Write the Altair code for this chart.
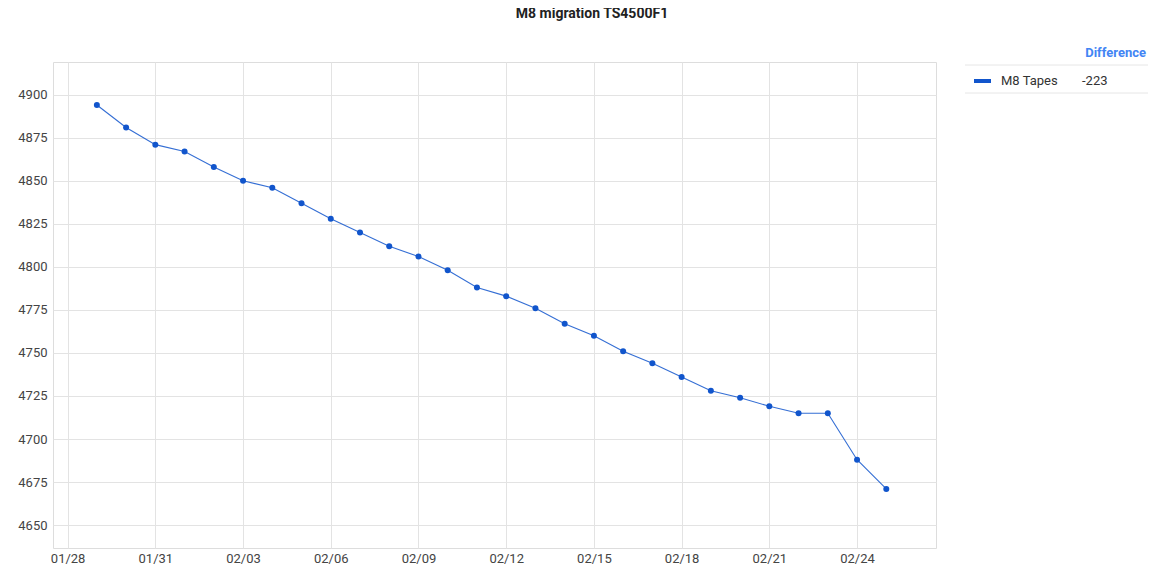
import altair as alt
import pandas as pd

# ---- data ----
dates = [
    "2024-01-29", "2024-01-30", "2024-01-31", "2024-02-01", "2024-02-02",
    "2024-02-03", "2024-02-04", "2024-02-05", "2024-02-06", "2024-02-07",
    "2024-02-08", "2024-02-09", "2024-02-10", "2024-02-11", "2024-02-12",
    "2024-02-13", "2024-02-14", "2024-02-15", "2024-02-16", "2024-02-17",
    "2024-02-18", "2024-02-19", "2024-02-20", "2024-02-21", "2024-02-22",
    "2024-02-23", "2024-02-24", "2024-02-25",
]
tapes = [
    4894, 4881, 4871, 4867, 4858,
    4850, 4846, 4837, 4828, 4820,
    4812, 4806, 4798, 4788, 4783,
    4776, 4767, 4760, 4751, 4744,
    4736, 4728, 4724, 4719, 4715,
    4715, 4688, 4671,
]
x_ticks = ["2024-01-28", "2024-01-31", "2024-02-03", "2024-02-06", "2024-02-09",
           "2024-02-12", "2024-02-15", "2024-02-18", "2024-02-21", "2024-02-24"]
y_ticks = [4650, 4675, 4700, 4725, 4750, 4775, 4800, 4825, 4850, 4875, 4900]
series_name = "M8 Tapes"
title_text = "M8 migration TS4500F1"
legend_header = "Difference"

df = pd.DataFrame({"date": dates, "value": tapes, "series": series_name})
difference = tapes[-1] - tapes[0]


def dt(s, h=0, mi=0):
    y, m, d = (int(p) for p in s.split("-"))
    return alt.DateTime(year=y, month=m, date=d, hours=h, minutes=mi, utc=True)


FONT = "Roboto"
BLUE = "#1155cc"
W, H = 883, 486

x_enc = alt.X(
    "date:T",
    scale=alt.Scale(type="utc", domain=[dt("2024-01-27", 12), dt("2024-02-26", 16, 48)]),
    axis=alt.Axis(
        values=[dt(t) for t in x_ticks], labelExpr="utcFormat(datum.value, '%m/%d')",
        title=None, domain=False, ticks=False, labelPadding=4, labelFontSize=13,
        labelColor="#444444", labelFont=FONT, gridColor="#e3e3e3", labelFlush=False,
    ),
)
y_enc = alt.Y(
    "value:Q",
    scale=alt.Scale(domain=[4636.7, 4919], nice=False, zero=False),
    axis=alt.Axis(
        values=y_ticks, format="d", title=None, domain=False, ticks=False, labelPadding=6,
        labelFontSize=13, labelColor="#444444", labelFont=FONT, gridColor="#e3e3e3",
    ),
)

base = alt.Chart(df)
line = base.mark_line(color=BLUE, strokeWidth=1.1, opacity=0.85).encode(x=x_enc, y=y_enc)
pts = base.mark_point(filled=True, color=BLUE, size=36, opacity=1).encode(x=x_enc, y=y_enc)

title_df = pd.DataFrame({"t": [title_text]})
title = alt.Chart(title_df).mark_text(
    font=FONT, fontSize=14, fontWeight="bold", color="#222222", align="center", baseline="middle"
).encode(text="t:N", x=alt.value(539), y=alt.value(-48))

leg_df = pd.DataFrame({"header": [legend_header], "name": [series_name], "diff": [str(difference)]})
leg = alt.Chart(leg_df)
header = leg.mark_text(
    font=FONT, fontSize=13, fontWeight="bold", color="#4285f4", align="right", baseline="middle"
).encode(text="header:N", x=alt.value(1093), y=alt.value(-9))
sep1 = leg.mark_rule(color="#e6e6e6", strokeWidth=1).encode(
    x=alt.value(912), x2=alt.value(1100), y=alt.value(3))
sep2 = leg.mark_rule(color="#e6e6e6", strokeWidth=1).encode(
    x=alt.value(912), x2=alt.value(1100), y=alt.value(31))
swatch = leg.mark_rule(color=BLUE, strokeWidth=4).encode(
    x=alt.value(921), x2=alt.value(938), y=alt.value(19))
name_t = leg.mark_text(
    font=FONT, fontSize=13, color="#333333", align="left", baseline="middle"
).encode(text="name:N", x=alt.value(948), y=alt.value(19))
diff_t = leg.mark_text(
    font=FONT, fontSize=13, color="#333333", align="left", baseline="middle"
).encode(text="diff:N", x=alt.value(1029), y=alt.value(19))

chart = (
    alt.layer(line, pts, title, header, sep1, sep2, swatch, name_t, diff_t)
    .properties(
        width=W, height=H,
        autosize=alt.AutoSizeParams(type="none"),
        padding={"left": 45, "top": 54, "right": 212, "bottom": 18},
    )
    .configure_view(stroke=None)
    .configure(background="white")
)

chart.save("out.html", embed_options={"renderer": "svg", "actions": False})
